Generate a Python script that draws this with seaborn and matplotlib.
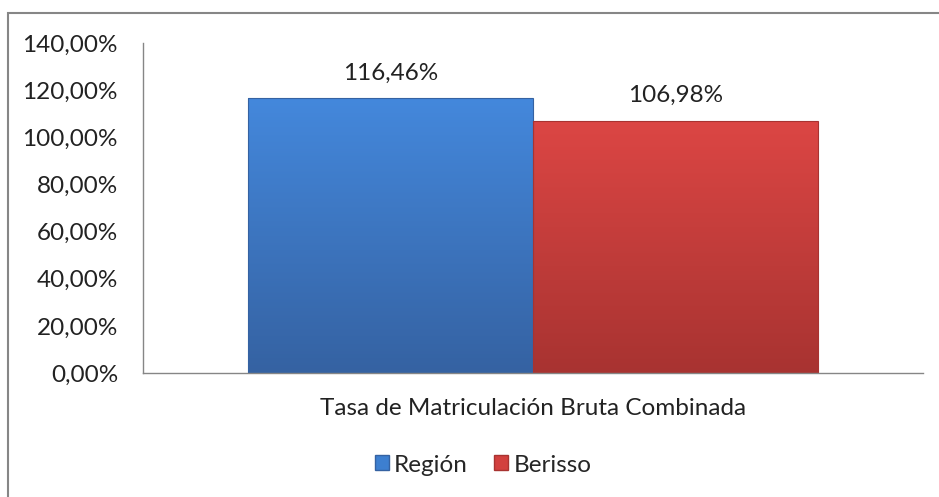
import numpy as np
import pandas as pd
import seaborn as sns
import matplotlib.pyplot as plt
from matplotlib.colors import LinearSegmentedColormap
from matplotlib.patches import Rectangle
from matplotlib.ticker import FuncFormatter

# datos
categoria = ["Tasa de Matriculación Bruta Combinada"]
series = ["Región", "Berisso"]
valores = [116.46, 106.98]
colores = ["#3d7fd0", "#d2403e"]
colores_claro = ["#4488dc", "#dc4644"]
colores_oscuro = ["#3562a2", "#a83331"]

df = pd.DataFrame({"cat": categoria * 2, "serie": series, "valor": valores})

sns.set_style("white")
plt.rcParams["font.family"] = ["Lato", "DejaVu Sans"]
fs = 17.5

fig = plt.figure(figsize=(9.39, 4.97), dpi=100)
ax = fig.add_axes([143 / 939, 1 - 373 / 497, (923 - 143) / 939, (373 - 43) / 497])

sns.barplot(data=df, x="cat", y="valor", hue="serie", palette=colores,
            width=0.73, ax=ax, legend=False, saturation=1)

# degradado sobre cada barra
for i, p in enumerate(ax.patches[:2]):
    x0, y0 = p.get_x(), p.get_y()
    w, h = p.get_width(), p.get_height()
    cmap = LinearSegmentedColormap.from_list("g", [colores_oscuro[i], colores_claro[i]])
    grad = np.linspace(0, 1, 256).reshape(-1, 1)
    im = ax.imshow(grad, cmap=cmap, origin="lower", aspect="auto",
                   extent=(x0, x0 + w, y0, y0 + h), zorder=p.get_zorder() + 0.1)
    im.set_clip_path(p)
    ax.add_patch(Rectangle((x0, y0), w, h, fill=False, edgecolor=colores_oscuro[i],
                           linewidth=0.8, zorder=p.get_zorder() + 0.2))
    ax.annotate(f"{valores[i]:.2f}".replace(".", ",") + "%", (x0 + w / 2, y0 + h),
                xytext=(0, 13.5), textcoords="offset points",
                ha="center", va="baseline", fontsize=fs, color="#222222")

ax.set_xlim(-0.5, 0.5)
ax.set_ylim(0, 140)
ax.set_yticks(np.arange(0, 141, 20))
ax.yaxis.set_major_formatter(FuncFormatter(lambda v, _: f"{v:.2f}".replace(".", ",") + "%"))
ax.tick_params(axis="y", labelsize=fs, colors="#222222", pad=18, length=0)
ax.tick_params(axis="x", labelsize=fs, colors="#222222", pad=18, length=0)
ax.set_xlabel("")
ax.set_ylabel("")

for s in ["top", "right"]:
    ax.spines[s].set_visible(False)
for s in ["left", "bottom"]:
    ax.spines[s].set_color("#868686")
    ax.spines[s].set_linewidth(1)

# leyenda
handles = [Rectangle((0, 0), 1, 1, facecolor=colores[i], edgecolor=colores_oscuro[i]) for i in range(2)]
fig.legend(handles, series, loc="center", bbox_to_anchor=(483 / 939, 1 - 465 / 497),
           ncol=2, frameon=False, fontsize=fs, handlelength=0.58, handleheight=0.58,
           handletextpad=0.2, columnspacing=1.1, borderpad=0)

# marco del gráfico
fig.patches.append(Rectangle((8 / 939, -0.01), 1, 1 - 13 / 497 + 0.01, transform=fig.transFigure,
                             fill=False, edgecolor="#868686", linewidth=1.5))

fig.savefig("out.png", dpi=100)
